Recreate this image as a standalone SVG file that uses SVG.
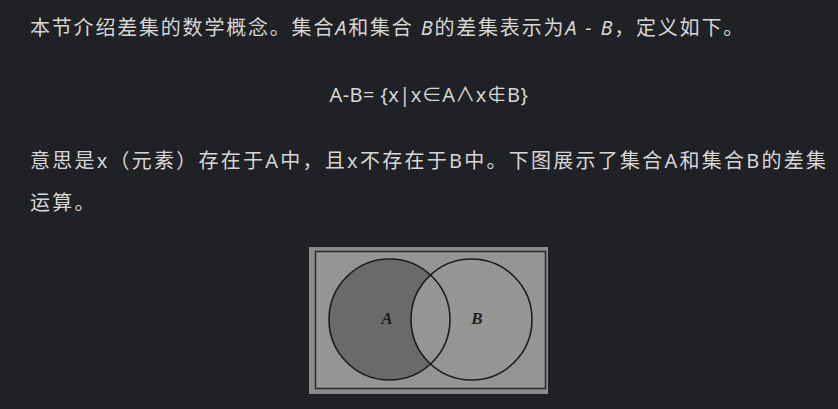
<svg xmlns="http://www.w3.org/2000/svg" width="838" height="409" viewBox="0 0 838 409">
<style>
.t{font-family:"Noto Sans","Noto Sans CJK SC",sans-serif;font-size:20px;fill:#d6d6d6;letter-spacing:1.5px}
.i{font-style:italic}
.lbl{font-family:"Liberation Serif",serif;font-size:17px;font-weight:bold;font-style:italic;fill:#1e1e1e;text-anchor:middle}
.ring{fill:none;stroke:#1c1c1c;stroke-width:1.6}
</style>
<rect width="838" height="409" fill="#202124"/>
<g id="text">
<text class="t" x="30" y="35" style="letter-spacing:1.8px">本节介绍差集的数学概念。集合<tspan class="i">A</tspan>和集合 <tspan class="i">B</tspan>的差集表示为<tspan class="i">A - B</tspan>，定义如下。</text>
<text class="t" x="429" y="102" text-anchor="middle" style="letter-spacing:0.4px">A-B= {x|x∈A∧x∉B}</text>
<text class="t" x="30" y="168" style="letter-spacing:2.25px">意思是x（元素）存在于A中，且x不存在于B中。下图展示了集合A和集合B的差集</text>
<text class="t" x="30" y="210" style="letter-spacing:2.25px">运算。</text>
</g>
<g id="venn">
<rect x="309" y="247" width="239" height="147" fill="#8a8a8a"/>
<rect x="315.5" y="251.5" width="230" height="137" fill="#959595" stroke="#2a2a2a" stroke-width="1.5"/>
<circle cx="389.5" cy="319.5" r="60.5" fill="#6a6a6a"/>
<circle cx="471.5" cy="319.5" r="60.5" fill="#959595"/>
<circle class="ring" cx="389.5" cy="319.5" r="60.5"/>
<circle class="ring" cx="471.5" cy="319.5" r="60.5"/>
<text class="lbl" x="387" y="324">A</text>
<text class="lbl" x="477" y="324">B</text>
</g>
</svg>
